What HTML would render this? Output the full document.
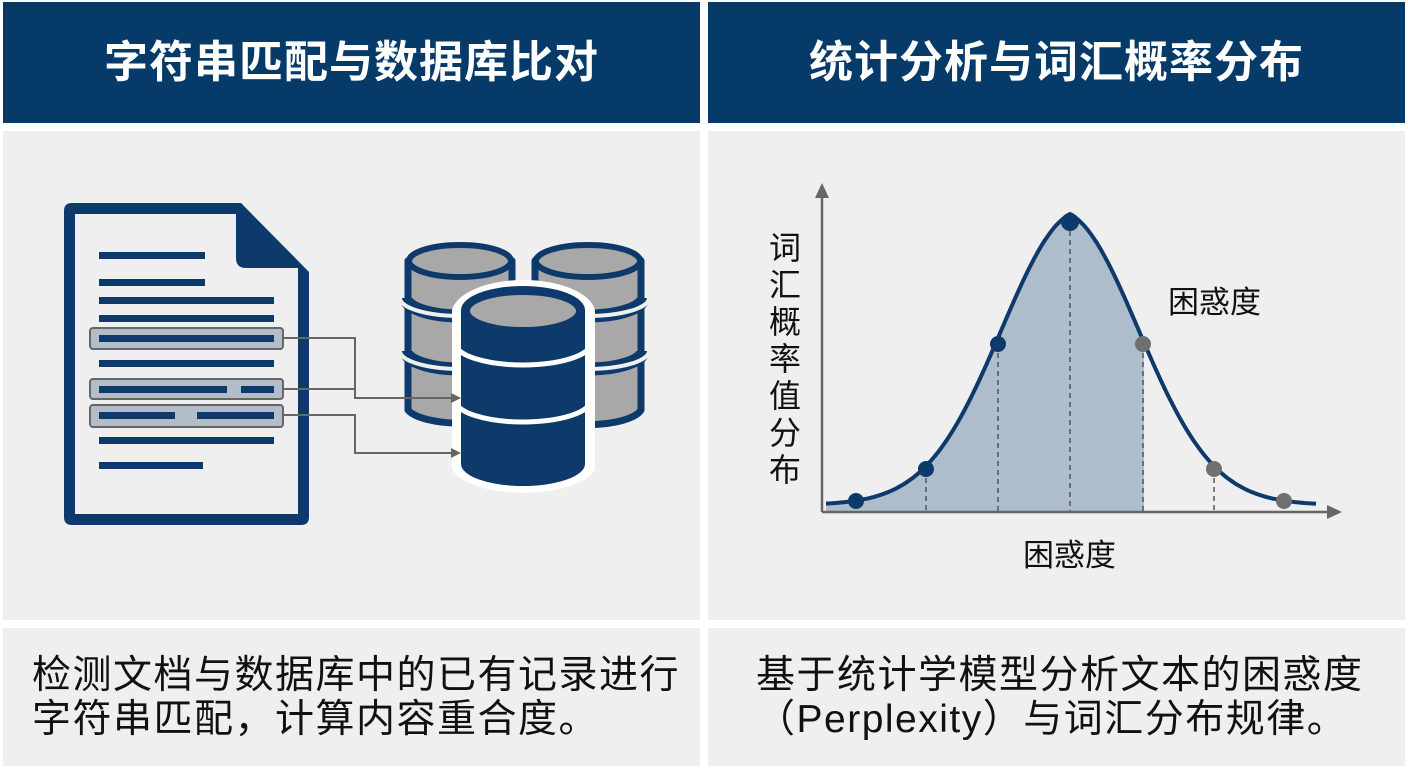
<!DOCTYPE html>
<html><head><meta charset="utf-8"><style>
html,body{margin:0;padding:0;background:#fff;width:1408px;height:768px;overflow:hidden;}
body{position:relative;font-family:"Liberation Sans","Noto Sans CJK SC",sans-serif;}
.h{position:absolute;top:2px;height:121px;background:#053a69;color:#fff;font-weight:bold;font-size:44px;line-height:121px;text-align:center;letter-spacing:1px;}
.p{position:absolute;background:#efefef;}
.t{position:absolute;font-size:39px;line-height:44px;color:#111;letter-spacing:1.5px;white-space:nowrap;}
svg{position:absolute;left:0;top:0;}
</style></head><body>
<div class="h" style="left:3px;width:697px;">字符串匹配与数据库比对</div>
<div class="h" style="left:708px;width:697px;">统计分析与词汇概率分布</div>
<div class="p" style="left:3px;top:131px;width:697px;height:489px;"></div>
<div class="p" style="left:708px;top:131px;width:697px;height:489px;"></div>
<div class="p" style="left:3px;top:628px;width:697px;height:138px;"></div>
<div class="p" style="left:708px;top:628px;width:697px;height:138px;"></div>
<div class="t" style="left:32px;top:654px;">检测文档与数据库中的已有记录进行<br>字符串匹配，计算内容重合度。</div>
<div class="t" style="left:756px;top:654px;">基于统计学模型分析文本的困惑度<br>（Perplexity）与词汇分布规律。</div>

<svg width="1408" height="768" viewBox="0 0 1408 768">
<defs><marker id="ar" markerWidth="10" markerHeight="10" refX="8" refY="5" orient="auto" markerUnits="userSpaceOnUse"><path d="M0,0 L10,5 L0,10 Z" fill="#666"/></marker></defs>
<!-- document -->
<path d="M72,203 H241 L309,272 V517 Q309,525 301,525 H72 Q64,525 64,517 V211 Q64,203 72,203 Z" fill="#0d3a6a"/>
<path d="M75,214 H236 V258 Q236,268 246,268 H298 V514 H75 Z" fill="#efefef"/>
<rect x="90" y="328" width="193" height="21" rx="3" fill="#b3bdc8" stroke="#666" stroke-width="2"/>
<rect x="90" y="379" width="193" height="20" rx="3" fill="#b3bdc8" stroke="#666" stroke-width="2"/>
<rect x="90" y="405" width="193" height="22" rx="3" fill="#b3bdc8" stroke="#666" stroke-width="2"/>
<g fill="#0d3a6a">
<rect x="99" y="252" width="106" height="7"/>
<rect x="99" y="279" width="106" height="7"/>
<rect x="99" y="297" width="175" height="7"/>
<rect x="99" y="315" width="175" height="7"/>
<rect x="99" y="335" width="175" height="7"/>
<rect x="99" y="360" width="175" height="7"/>
<rect x="99" y="386" width="128" height="7"/>
<rect x="241" y="386" width="33" height="7"/>
<rect x="99" y="412" width="76" height="7"/>
<rect x="197" y="412" width="77" height="7"/>
<rect x="99" y="437" width="175" height="7"/>
<rect x="99" y="462" width="104" height="7"/>
</g>
<!-- back cylinders -->
<g stroke="#0d3a6a" stroke-width="7" fill="#a8a8a8">
<path d="M408,261 A54,18 0 0 1 512,261 V410 A54,18 0 0 1 408,410 Z"/>
<path d="M535,261 A54,18 0 0 1 641,261 V410 A54,18 0 0 1 535,410 Z"/>
</g>
<g fill="none">
<path d="M406,298 A54,18 0 0 0 514,298 M406,351 A54,18 0 0 0 514,351 M533,298 A55,18 0 0 0 643,298 M533,351 A55,18 0 0 0 643,351" stroke="#0d3a6a" stroke-width="13"/>
<path d="M400,298 A60,18 0 0 0 520,298 M400,351 A60,18 0 0 0 520,351 M527,298 A61,18 0 0 0 649,298 M527,351 A61,18 0 0 0 649,351" stroke="#efefef" stroke-width="4"/>
</g>
<g stroke="#0d3a6a" stroke-width="6" fill="#a8a8a8">
<ellipse cx="460" cy="261" rx="51" ry="16"/>
<ellipse cx="588" cy="261" rx="52" ry="16"/>
</g>
<!-- front cylinder -->
<path d="M452,310 A72,34 0 0 1 595,310 V468 A72,28 0 0 1 452,468 Z" fill="#fff"/>
<path d="M461,310 A62,24 0 0 1 585,310 V464 A62,22 0 0 1 461,464 Z" fill="#0d3a6a"/>
<path d="M455,343 A68,22 0 0 0 591,343 M455,400 A68,22 0 0 0 591,400" fill="none" stroke="#fff" stroke-width="5"/>
<ellipse cx="523" cy="311" rx="55" ry="18" fill="#a8a8a8" stroke="#0d3a6a" stroke-width="4"/>
<!-- connectors -->
<g stroke="#666" stroke-width="2" fill="none">
<path d="M283,338 H355 V398 H459" marker-end="url(#ar)"/>
<path d="M283,389 H355"/>
<path d="M283,415 H355 V453 H459" marker-end="url(#ar)"/>
</g>
<!-- chart -->
<path id="fill" fill="#aebdcb"/>
<g stroke="#555" stroke-width="1.5" stroke-dasharray="5,4">
<line x1="926" y1="469" x2="926" y2="512"/>
<line x1="998" y1="344" x2="998" y2="512"/>
<line x1="1070" y1="222" x2="1070" y2="512"/>
<line x1="1143" y1="344" x2="1143" y2="512"/>
<line x1="1214" y1="469" x2="1214" y2="512"/>
</g>
<path id="curve" fill="none" stroke="#0d3a6a" stroke-width="4"/>
<g stroke="#666" stroke-width="2.5" fill="#666">
<line x1="822" y1="512" x2="822" y2="195"/>
<line x1="822" y1="512" x2="1330" y2="512"/>
</g>
<path d="M822,183 L815,198 L829,198 Z" fill="#666"/>
<path d="M1342,512 L1327,505 L1327,519 Z" fill="#666"/>
<g fill="#0d3a6a">
<circle cx="856" cy="501" r="8"/><circle cx="926" cy="469" r="8"/><circle cx="998" cy="344" r="8"/><circle cx="1070" cy="222" r="9"/>
</g>
<g fill="#707070">
<circle cx="1143" cy="344" r="8"/><circle cx="1214" cy="469" r="8"/><circle cx="1284" cy="501" r="8"/>
</g>
<text x="1168" y="313" font-size="31" fill="#111">困惑度</text>
<text x="1023" y="566" font-size="31" fill="#111">困惑度</text>
<text font-size="32" fill="#111">
<tspan x="769" y="259">词</tspan><tspan x="769" y="296">汇</tspan><tspan x="769" y="333">概</tspan><tspan x="769" y="370">率</tspan><tspan x="769" y="407">值</tspan><tspan x="769" y="444">分</tspan><tspan x="769" y="481">布</tspan>
</text>
</svg>
<script>
function f(x){var d=x-1070;var g=Math.exp(-d*d/(2*72*72));var t=Math.exp(-Math.abs(d)/75);return 506-(252*g+40*t);}
var s="",fl="";
for(var x=826;x<=1316;x+=2){var y=f(x).toFixed(1);s+=(x==826?"M":"L")+x+","+y+" ";if(x<=1144)fl+=(x==826?"M":"L")+x+","+y+" ";}
document.getElementById("curve").setAttribute("d",s);
document.getElementById("fill").setAttribute("d",fl+"L1144,512 L826,512 Z");
</script>
</body></html>
